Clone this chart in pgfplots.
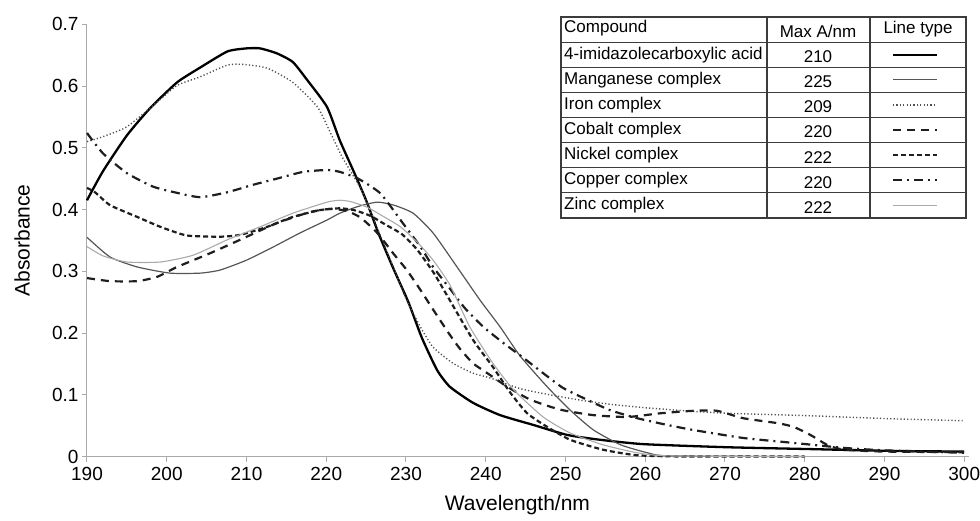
\documentclass[border=0pt]{standalone}
\usepackage{fontspec}
\setmainfont{Liberation Sans}
\usepackage{pgfplots}
\pgfplotsset{compat=1.18}
\definecolor{axgray}{RGB}{170,170,170}
\definecolor{mngray}{RGB}{85,85,85}
\definecolor{fegray}{RGB}{80,80,80}
\definecolor{dkline}{RGB}{30,30,30}
\definecolor{zngray}{RGB}{170,170,170}
\definecolor{tabline}{RGB}{60,60,60}

\tikzset{
  compound/.style={black, line width=2.3pt},
  mangan/.style={mngray, line width=1.2pt},
  iron/.style={fegray, line width=1.4pt, dash pattern=on 1.2pt off 2.2pt},
  cobalt/.style={dkline, line width=2.2pt, dash pattern=on 8pt off 6pt},
  nickel/.style={dkline, line width=2.2pt, dash pattern=on 5pt off 3pt},
  copper/.style={dkline, line width=2.2pt, dash pattern=on 9pt off 5pt on 2pt off 5pt},
  zinc/.style={zngray, line width=1.1pt},
}

\begin{document}
\begin{tikzpicture}
\path[use as bounding box] (-87pt,-63.5pt) rectangle (893pt,456.5pt);
\begin{axis}[
  scale only axis,
  width=882pt, height=432.2pt,
  xmin=190, xmax=300.6, ymin=0, ymax=0.7,
  axis x line=bottom, axis y line=left,
  axis line style={-, draw=axgray, line width=1pt},
  tick style={draw=axgray, line width=1pt},
  tick align=outside, major tick length=5pt,
  xtick={190,200,...,300},
  ytick={0,0.1,...,0.7},
  /pgf/number format/assume math mode=true,
  yticklabel style={/pgf/number format/fixed,/pgf/number format/precision=1,font=\fontsize{19}{22}\selectfont},
  xticklabel style={font=\fontsize{19}{22}\selectfont, yshift=-2pt},
  xlabel={Wavelength/nm}, ylabel={Absorbance},
  label style={font=\fontsize{21}{24}\selectfont},
  xlabel style={at={(axis description cs:0.488,-0.1122)}, anchor=center},
  ylabel style={at={(axis description cs:-0.0737,0.5)}, anchor=center},
  every axis plot/.append style={smooth, tension=0.35},
  clip=false,
]
% 4-imidazolecarboxylic acid
\addplot[compound] coordinates {(190,0.415) (192,0.462) (195,0.52) (197.9,0.564) (201.3,0.606) (204.2,0.63) (207.6,0.656) (210,0.661) (211.7,0.661) (213.8,0.653) (215.8,0.639) (217.6,0.61) (220.1,0.566) (221.7,0.512) (223.5,0.46) (225,0.415) (226.6,0.36) (228.4,0.305) (230.3,0.25) (232,0.192) (233.9,0.14) (235.5,0.113) (238.4,0.087) (241.8,0.067) (246,0.051) (250.2,0.035) (254.4,0.027) (259.8,0.02) (270.3,0.015) (280.7,0.012) (291.1,0.009) (300,0.008)};
% Manganese
\addplot[mangan] coordinates {(190,0.355) (192.9,0.323) (196.3,0.307) (200.4,0.297) (204.2,0.297) (206.7,0.302) (210,0.318) (213.3,0.339) (216.7,0.362) (220.1,0.383) (221.7,0.394) (224,0.405) (226.4,0.412) (228.5,0.407) (230.9,0.394) (233.4,0.362) (236.4,0.307) (239.3,0.253) (241.8,0.21) (244.3,0.163) (247.7,0.113) (250.6,0.075) (253.5,0.043) (256.9,0.019) (260.3,0.006) (263,0.001) (280,0)};
% Iron
\addplot[iron] coordinates {(190,0.51) (192,0.518) (195,0.534) (198.8,0.574) (201.3,0.601) (204.2,0.615) (207.6,0.634) (209.6,0.635) (212.6,0.629) (215.8,0.606) (218.9,0.566) (220.5,0.525) (222,0.485) (224.4,0.432) (226.4,0.37) (228.4,0.307) (230.1,0.253) (231.8,0.21) (233.4,0.177) (235.9,0.151) (238.4,0.135) (240.6,0.127) (244.3,0.11) (248,0.1) (252.5,0.09) (256,0.084) (260,0.079) (265,0.074) (270.3,0.07) (280.7,0.066) (291.1,0.061) (300,0.058)};
% Cobalt
\addplot[cobalt] coordinates {(190,0.289) (192.9,0.284) (196.3,0.284) (198.8,0.291) (201.3,0.307) (205.4,0.329) (209.2,0.351) (213.8,0.378) (218,0.396) (220.5,0.401) (222.5,0.398) (224.3,0.387) (226.4,0.362) (228.4,0.329) (230.1,0.302) (231.8,0.27) (233.4,0.238) (235.5,0.197) (236.8,0.174) (238.4,0.151) (240.2,0.135) (242.7,0.113) (245.6,0.092) (249.3,0.076) (253.5,0.067) (257.8,0.064) (261.9,0.07) (266,0.074) (269,0.074) (272.3,0.062) (276.6,0.054) (278.6,0.048) (280.7,0.035) (282.8,0.019) (284.9,0.011) (290,0.008) (300,0.007)};
% Nickel
\addplot[nickel] coordinates {(190,0.435) (191,0.428) (192.9,0.407) (196.3,0.388) (199.2,0.372) (202.5,0.358) (206.7,0.356) (209.2,0.359) (212.6,0.372) (215.8,0.388) (219.2,0.399) (221.7,0.402) (223.5,0.399) (225.5,0.39) (227.5,0.375) (229.5,0.36) (231.4,0.335) (233.5,0.297) (235.5,0.253) (238.4,0.189) (240.9,0.145) (243.1,0.103) (245.2,0.07) (247.7,0.048) (250.6,0.027) (254.7,0.011) (259,0.002) (265,0) (280,0)};
% Copper
\addplot[copper] coordinates {(190,0.524) (192,0.491) (195,0.459) (198.3,0.437) (201.3,0.427) (204.2,0.42) (207.6,0.428) (210.8,0.44) (213.8,0.45) (217.1,0.461) (220.1,0.464) (221.7,0.461) (224,0.45) (226.8,0.426) (229.6,0.378) (231.8,0.34) (233.4,0.307) (235.5,0.272) (237.4,0.24) (239.7,0.21) (242.2,0.184) (244.7,0.16) (247.2,0.135) (249.7,0.111) (252.7,0.092) (255.6,0.075) (259,0.062) (262.8,0.051) (266,0.043) (272.3,0.03) (278.6,0.022) (284.9,0.014) (290,0.01) (300,0.006)};
% Zinc
\addplot[zinc] coordinates {(190,0.34) (192,0.325) (195,0.315) (199.2,0.315) (203.3,0.326) (207.6,0.351) (211.7,0.372) (215.8,0.394) (220.1,0.412) (221.7,0.415) (223,0.413) (225.1,0.404) (227,0.39) (229.3,0.372) (231.5,0.346) (233.4,0.318) (235.5,0.278) (238,0.21) (240.9,0.151) (243.5,0.108) (247.2,0.064) (250.6,0.038) (254.7,0.019) (259,0.006) (263,0.001) (280,0)};
\end{axis}

% legend table
\begin{scope}[font=\fontsize{17}{20}\selectfont]
\fill[white] (474pt,238.5pt) rectangle (879pt,439.5pt);
\draw[tabline, line width=1.1pt] (474pt,238.5pt) rectangle (879pt,439.5pt);
\foreach \k in {1,...,7} \draw[tabline, line width=1.1pt] (474pt,{439.5pt-\k*25.125pt}) -- (879pt,{439.5pt-\k*25.125pt});
\draw[tabline, line width=1.1pt] (680pt,238.5pt) -- (680pt,439.5pt);
\draw[tabline, line width=1.1pt] (783pt,238.5pt) -- (783pt,439.5pt);
\node[anchor=west, inner sep=0pt] at (477pt,428pt) {Compound};
\node[inner sep=0pt] at (731pt,425pt) {Max A/nm};
\node[inner sep=0pt] at (831pt,427pt) {Line type};
\foreach \name/\val/\sty [count=\i] in {4-imidazolecarboxylic acid/210/compound, Manganese complex/225/mangan, Iron complex/209/iron, Cobalt complex/220/cobalt, Nickel complex/222/nickel, Copper complex/220/copper, Zinc complex/222/zinc} {
  \node[anchor=west, inner sep=0pt] at (477pt,{439.5pt-(\i+0.5)*25.125pt}) {\name};
  \node[inner sep=0pt] at (731pt,{437.5pt-(\i+0.5)*25.125pt}) {\val};
  \draw[\sty] (806pt,{439.5pt-(\i+0.5)*25.125pt}) -- (850pt,{439.5pt-(\i+0.5)*25.125pt});
}
\end{scope}
\end{tikzpicture}
\end{document}
